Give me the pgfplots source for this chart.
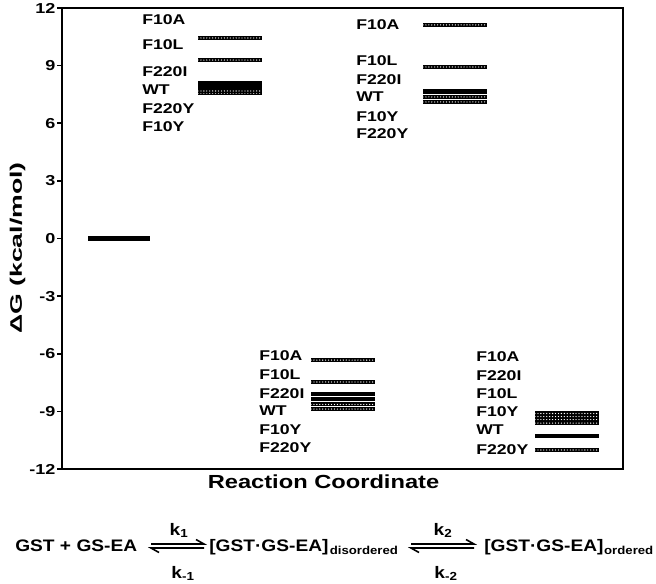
\documentclass[border=0pt]{standalone}
\usepackage{fontspec}
\setmainfont{Liberation Sans}[FakeStretch=1.25]
\newfontfamily\schfont{Liberation Sans}[FakeStretch=1.15]
\usepackage{pgfplots}
\pgfplotsset{compat=1.18}
\newcommand\lab{\bfseries\fontsize{10.6}{12}\selectfont}
\newcommand\sch{\schfont\bfseries\fontsize{12.5}{14}\selectfont}
\newcommand\sub{\schfont\bfseries\fontsize{8.6}{10}\selectfont}
\begin{document}
\begin{tikzpicture}[
  solidbar/.style={black, line width=3pt},
  dotbar/.style={black, line width=3pt,
     postaction={draw=white, line width=1pt, line cap=round, dash pattern=on 0pt off 2.2pt}}]
\begin{axis}[
  name=ax, at={(46.5pt,-6pt)}, anchor=north west,
  scale only axis, width=420.75pt, height=345.75pt,
  xmin=62, xmax=623, ymin=-12, ymax=12,
  xtick=\empty, ytick={-12,-9,...,12}, ytick pos=left,
  tick align=outside, major tick length=3.75pt,
  axis line style={line width=1.3pt},
  every tick/.style={black, line width=1.3pt},
  /pgf/number format/assume math mode=true,
  yticklabel style={font=\bfseries\fontsize{10.8}{12}\selectfont, inner sep=1pt},
  clip=false]
% reactants
\addplot[solidbar, line width=4.3pt] coordinates {(88,0) (150,0)};
% first transition state
\addplot[dotbar] coordinates {(198,10.44) (262,10.44)};
\addplot[dotbar] coordinates {(198,9.29) (262,9.29)};
\addplot[dotbar] coordinates {(198,7.57) (262,7.57)};
\addplot[dotbar] coordinates {(198,7.68) (262,7.68)};
\addplot[solidbar] coordinates {(198,7.89) (262,7.89)};
\addplot[solidbar] coordinates {(198,8.10) (262,8.10)};
% disordered complex
\addplot[dotbar] coordinates {(311,-6.33) (375,-6.33)};
\addplot[dotbar] coordinates {(311,-7.47) (375,-7.47)};
\addplot[dotbar] coordinates {(311,-8.88) (375,-8.88)};
\addplot[dotbar] coordinates {(311,-8.64) (375,-8.64)};
\addplot[solidbar] coordinates {(311,-8.38) (375,-8.38)};
\addplot[solidbar] coordinates {(311,-8.12) (375,-8.12)};
% second transition state
\addplot[dotbar] coordinates {(423,11.12) (487,11.12)};
\addplot[dotbar] coordinates {(423,8.93) (487,8.93)};
\addplot[dotbar] coordinates {(423,7.11) (487,7.11)};
\addplot[dotbar] coordinates {(423,7.37) (487,7.37)};
\addplot[solidbar] coordinates {(423,7.63) (487,7.63)};
\addplot[solidbar] coordinates {(423,7.68) (487,7.68)};
% ordered complex
\addplot[dotbar] coordinates {(535,-9.61) (599,-9.61)};
\addplot[dotbar] coordinates {(535,-9.42) (599,-9.42)};
\addplot[dotbar] coordinates {(535,-9.27) (599,-9.27)};
\addplot[dotbar] coordinates {(535,-9.11) (599,-9.11)};
\addplot[solidbar] coordinates {(535,-10.28) (599,-10.28)};
\addplot[dotbar] coordinates {(535,-11.01) (599,-11.01)};
\end{axis}
\begin{scope}[x=0.75pt, y=-0.75pt]
\path (0,0) rectangle (656,583);
\begin{scope}[every node/.style={anchor=west, inner sep=0pt, font=\lab}]
\node at (142,20) {F10A};
\node at (142,45) {F10L};
\node at (142,72) {F220I};
\node at (142,90) {WT};
\node at (142,109) {F220Y};
\node at (142,127) {F10Y};
\node at (356,24.5) {F10A};
\node at (356,61) {F10L};
\node at (356,80) {F220I};
\node at (356,97) {WT};
\node at (356,117) {F10Y};
\node at (356,133.5) {F220Y};
\node at (259,356) {F10A};
\node at (259,375) {F10L};
\node at (259,394) {F220I};
\node at (259,411) {WT};
\node at (259,430) {F10Y};
\node at (259,448) {F220Y};
\node at (476,357) {F10A};
\node at (476,375.5) {F220I};
\node at (476,394) {F10L};
\node at (476,412) {F10Y};
\node at (476,430) {WT};
\node at (476,449.5) {F220Y};
\end{scope}
\node[inner sep=0pt, font=\bfseries\fontsize{14.2}{16}\selectfont] at (323.5,482) {Reaction Coordinate};
\node[inner sep=0pt, rotate=90, font=\bfseries\fontsize{12.5}{14}\selectfont] at (17.5,248) {\scalebox{1.28}[1]{ΔG (kcal/mol)}};
\begin{scope}[every node/.style={inner sep=0pt, font=\sch}]
\node[anchor=base west] at (15,551) {GST + GS-EA};
\node[anchor=base west] at (209,551) {[GST·GS-EA]\hspace{1pt}\raisebox{-2.5pt}{\sub disordered}};
\node[anchor=base west] at (484,551) {[GST·GS-EA]\hspace{0.5pt}\raisebox{-2.5pt}{\sub ordered}};
\node[anchor=base] at (179,535) {k\textsubscript{1}};
\node[anchor=base] at (183,578) {k\textsubscript{-1}};
\node[anchor=base] at (443,535) {k\textsubscript{2}};
\node[anchor=base] at (446,578) {k\textsubscript{-2}};
\end{scope}
\begin{scope}[line width=1.2pt]
\draw (151,544) -- (204,544) -- (196,539.5);
\draw (204,548) -- (151,548) -- (159,552.5);
\draw (411,544) -- (474,544) -- (466,539.5);
\draw (474,548) -- (411,548) -- (419,552.5);
\end{scope}
\end{scope}
\end{tikzpicture}
\end{document}
